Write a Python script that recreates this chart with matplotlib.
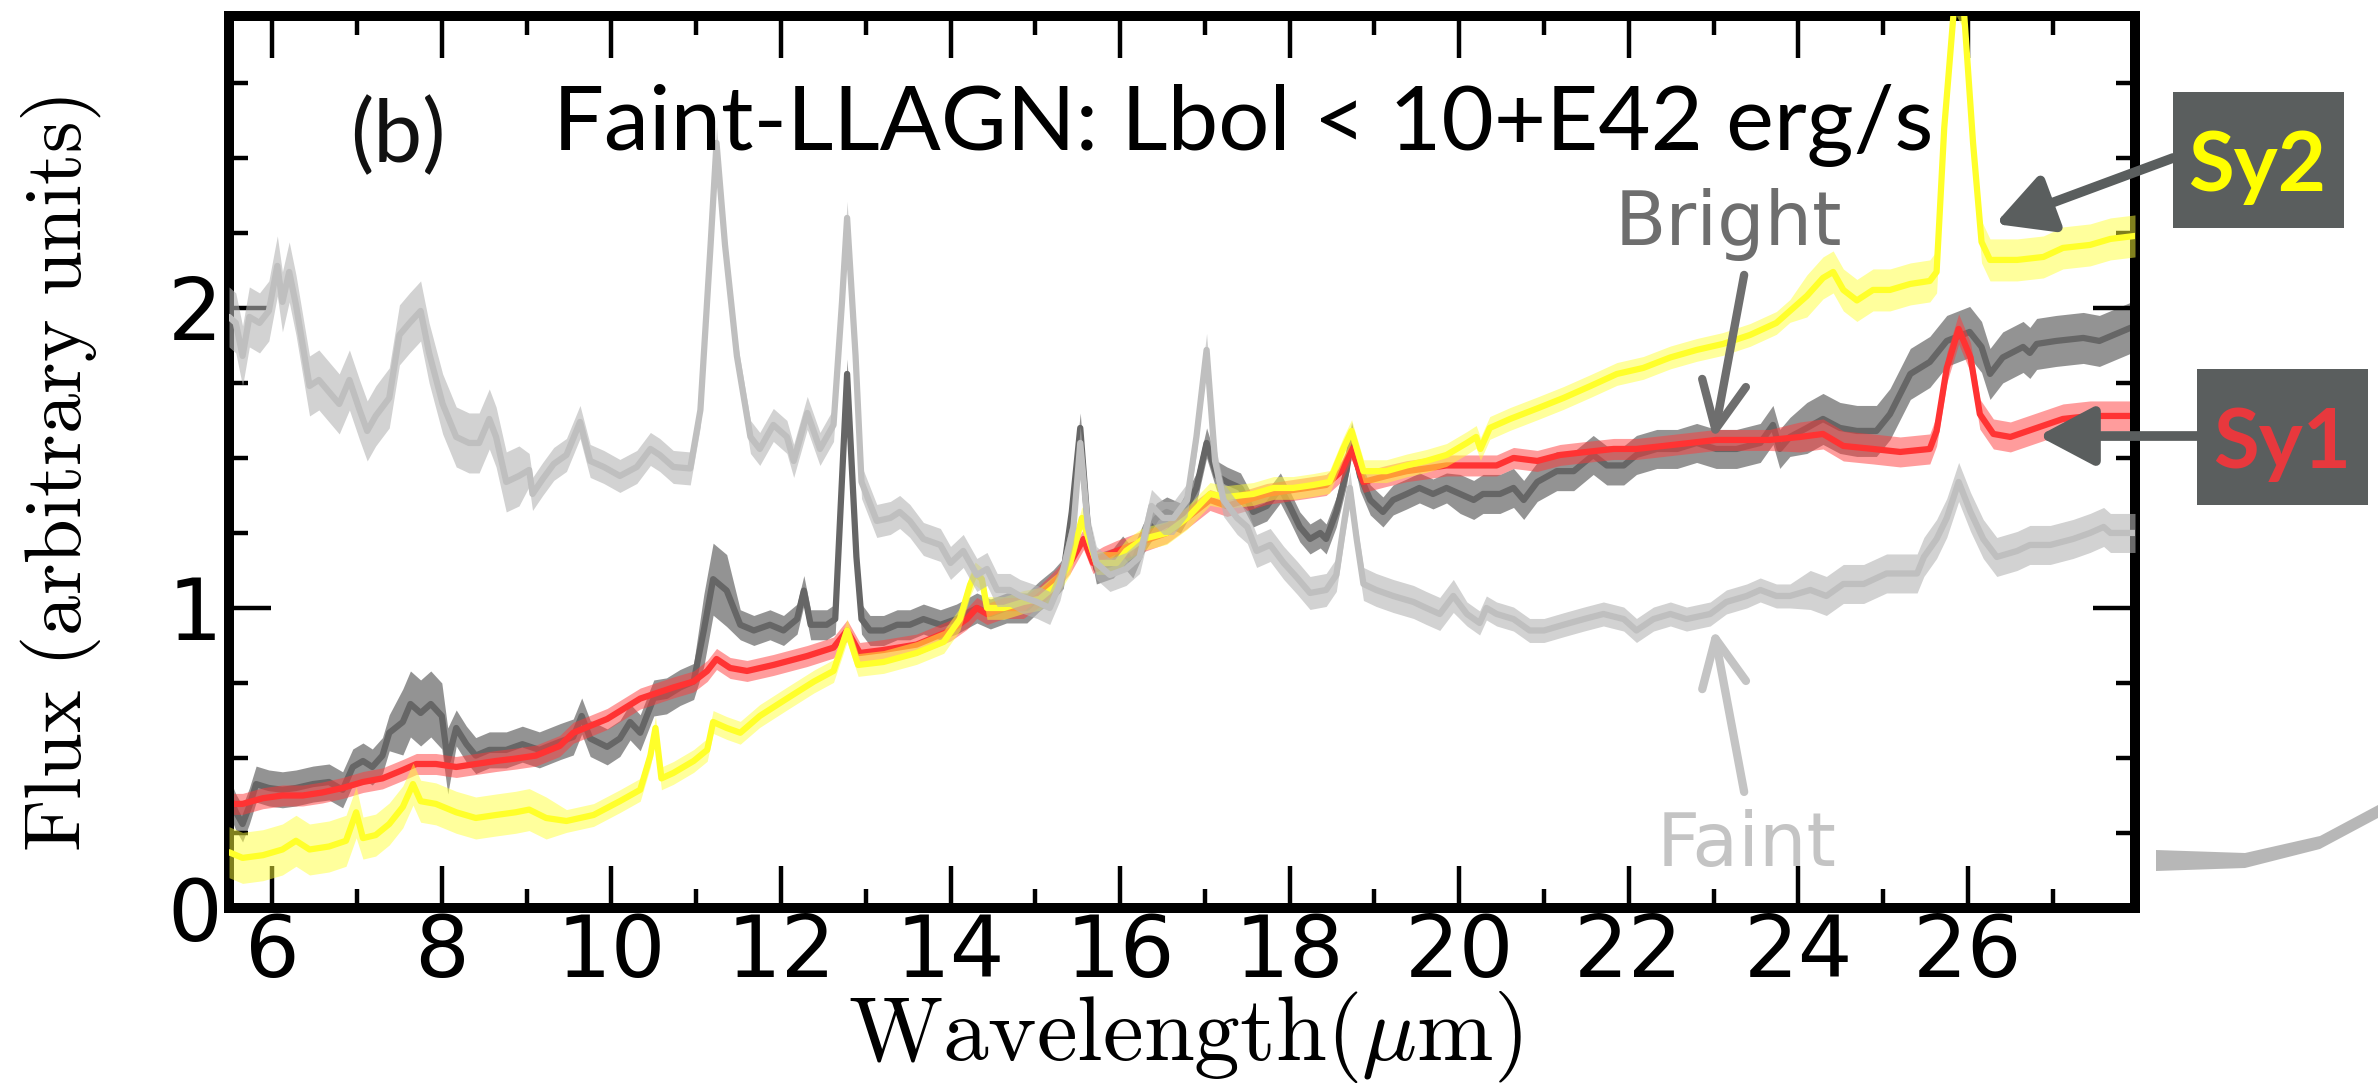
import numpy as np
import matplotlib
matplotlib.use("Agg")
import matplotlib.pyplot as plt
from matplotlib.patches import Rectangle, Polygon
from matplotlib.ticker import MultipleLocator

plt.rcParams['mathtext.fontset'] = 'cm'

# mean spectra: (wavelength in micron, normalised flux)
faint = np.array([
    (5.49, 1.97), (5.57, 1.95), (5.65, 1.84), (5.73, 1.97), (5.85, 1.95), (5.96, 1.99),
    (6.06, 2.14), (6.12, 2.02), (6.20, 2.12), (6.28, 2.01), (6.44, 1.74), (6.55, 1.76),
    (6.67, 1.72), (6.79, 1.68), (6.91, 1.76), (7.03, 1.66), (7.12, 1.59), (7.22, 1.64),
    (7.38, 1.70), (7.50, 1.91), (7.62, 1.95), (7.75, 1.99), (7.85, 1.85), (8.01, 1.68),
    (8.17, 1.57), (8.32, 1.55), (8.44, 1.55), (8.56, 1.63), (8.64, 1.57), (8.76, 1.42),
    (8.91, 1.44), (9.03, 1.46), (9.07, 1.38), (9.19, 1.43), (9.32, 1.48), (9.47, 1.51),
    (9.63, 1.62), (9.75, 1.49), (9.91, 1.47), (10.10, 1.44), (10.30, 1.47), (10.46, 1.53),
    (10.57, 1.51), (10.73, 1.47), (10.93, 1.465), (11.05, 1.66), (11.17, 2.21), (11.24, 2.55),
    (11.34, 2.21), (11.48, 1.84), (11.64, 1.57), (11.75, 1.53), (11.91, 1.61), (12.07, 1.57),
    (12.15, 1.49), (12.31, 1.65), (12.46, 1.53), (12.62, 1.61), (12.72, 2.02), (12.78, 2.30),
    (12.88, 1.84), (12.95, 1.42), (13.13, 1.29), (13.29, 1.30), (13.40, 1.32), (13.52, 1.29),
    (13.68, 1.23), (13.88, 1.21), (14.00, 1.15), (14.15, 1.19), (14.31, 1.11), (14.43, 1.13),
    (14.55, 1.06), (14.70, 1.06), (14.82, 1.04), (15.02, 1.02), (15.17, 1.00), (15.29, 1.08),
    (15.45, 1.27), (15.53, 1.55), (15.62, 1.27), (15.72, 1.15), (15.88, 1.11), (16.07, 1.13),
    (16.23, 1.17), (16.37, 1.34), (16.51, 1.30), (16.63, 1.30), (16.79, 1.36), (16.90, 1.57),
    (17.02, 1.86), (17.12, 1.49), (17.22, 1.36), (17.38, 1.30), (17.50, 1.27), (17.61, 1.19),
    (17.77, 1.21), (17.93, 1.15), (18.09, 1.10), (18.24, 1.05), (18.43, 1.06), (18.55, 1.11),
    (18.65, 1.30), (18.71, 1.40), (18.79, 1.23), (18.87, 1.08), (19.02, 1.06), (19.22, 1.04),
    (19.46, 1.02), (19.61, 1.00), (19.77, 0.98), (19.93, 1.04), (20.09, 0.98), (20.24, 0.95),
    (20.32, 1.00), (20.44, 0.98), (20.64, 0.963), (20.83, 0.925), (21.00, 0.925), (21.23, 0.944),
    (21.47, 0.963), (21.70, 0.98), (21.94, 0.963), (22.09, 0.925), (22.29, 0.963), (22.49, 0.98),
    (22.68, 0.963), (22.96, 0.98), (23.15, 1.02), (23.39, 1.04), (23.55, 1.06), (23.74, 1.04),
    (23.90, 1.04), (24.14, 1.06), (24.33, 1.04), (24.53, 1.08), (24.77, 1.08), (25.04, 1.115),
    (25.40, 1.115), (25.48, 1.17), (25.63, 1.23), (25.75, 1.30), (25.89, 1.42), (26.03, 1.32),
    (26.18, 1.23), (26.34, 1.17), (26.58, 1.19), (26.73, 1.21), (26.97, 1.21), (27.24, 1.23),
    (27.44, 1.25), (27.60, 1.27), (27.68, 1.25), (27.97, 1.25),
])

bright = np.array([
    (5.49, 0.375), (5.57, 0.32), (5.65, 0.28), (5.73, 0.34), (5.81, 0.413), (5.96, 0.40),
    (6.12, 0.394), (6.28, 0.40), (6.48, 0.413), (6.67, 0.42), (6.83, 0.394), (6.95, 0.47),
    (7.07, 0.49), (7.18, 0.47), (7.30, 0.508), (7.38, 0.584), (7.54, 0.62), (7.63, 0.68),
    (7.75, 0.65), (7.87, 0.68), (8.00, 0.64), (8.07, 0.49), (8.17, 0.60), (8.29, 0.546),
    (8.40, 0.508), (8.56, 0.527), (8.76, 0.527), (8.95, 0.546), (9.15, 0.527), (9.40, 0.555),
    (9.55, 0.57), (9.65, 0.64), (9.75, 0.565), (9.95, 0.537), (10.10, 0.565), (10.22, 0.62),
    (10.34, 0.584), (10.50, 0.70), (10.65, 0.707), (10.81, 0.735), (10.97, 0.755), (11.09, 0.925),
    (11.20, 1.096), (11.36, 1.058), (11.52, 0.944), (11.68, 0.925), (11.87, 0.944), (12.03, 0.925),
    (12.19, 0.963), (12.27, 1.058), (12.35, 0.944), (12.54, 0.944), (12.64, 0.963), (12.78, 1.78),
    (12.89, 1.17), (12.95, 0.963), (13.05, 0.925), (13.21, 0.925), (13.37, 0.944), (13.52, 0.944),
    (13.68, 0.963), (13.88, 0.944), (14.07, 0.963), (14.31, 1.00), (14.47, 0.98), (14.66, 1.00),
    (14.90, 1.00), (15.05, 1.04), (15.21, 1.077), (15.33, 1.115), (15.43, 1.32), (15.53, 1.60),
    (15.62, 1.27), (15.72, 1.13), (15.92, 1.15), (16.03, 1.19), (16.15, 1.15), (16.27, 1.23),
    (16.43, 1.30), (16.55, 1.32), (16.71, 1.30), (16.79, 1.34), (16.90, 1.40), (17.02, 1.55),
    (17.14, 1.44), (17.26, 1.42), (17.42, 1.40), (17.57, 1.32), (17.73, 1.34), (17.89, 1.40),
    (18.00, 1.34), (18.12, 1.27), (18.24, 1.23), (18.36, 1.25), (18.43, 1.23), (18.55, 1.32),
    (18.67, 1.456), (18.73, 1.57), (18.83, 1.44), (18.95, 1.36), (19.10, 1.32), (19.22, 1.36),
    (19.38, 1.38), (19.53, 1.40), (19.69, 1.38), (19.85, 1.40), (20.01, 1.38), (20.17, 1.36),
    (20.28, 1.38), (20.48, 1.38), (20.64, 1.40), (20.76, 1.36), (20.92, 1.42), (21.15, 1.456),
    (21.35, 1.456), (21.58, 1.51), (21.74, 1.475), (21.94, 1.475), (22.09, 1.51), (22.33, 1.53),
    (22.57, 1.53), (22.80, 1.55), (23.03, 1.53), (23.27, 1.53), (23.55, 1.55), (23.70, 1.61),
    (23.78, 1.53), (23.90, 1.57), (24.10, 1.60), (24.29, 1.63), (24.49, 1.60), (24.69, 1.59),
    (24.92, 1.59), (25.08, 1.646), (25.32, 1.78), (25.55, 1.82), (25.75, 1.89), (26.02, 1.92),
    (26.16, 1.87), (26.26, 1.78), (26.41, 1.835), (26.65, 1.87), (26.73, 1.85), (26.81, 1.88),
    (27.04, 1.89), (27.36, 1.90), (27.55, 1.89), (27.97, 1.94),
])

sy1 = np.array([
    (5.49, 0.347), (5.65, 0.347), (5.89, 0.366), (6.12, 0.375), (6.36, 0.375), (6.59, 0.385),
    (6.83, 0.40), (7.07, 0.42), (7.30, 0.432), (7.54, 0.46), (7.70, 0.48), (7.93, 0.48),
    (8.17, 0.47), (8.40, 0.48), (8.64, 0.49), (8.87, 0.498), (9.11, 0.508), (9.39, 0.54),
    (9.55, 0.584), (9.95, 0.63), (10.34, 0.698), (10.73, 0.735), (10.97, 0.755), (11.13, 0.79),
    (11.24, 0.83), (11.40, 0.80), (11.60, 0.79), (11.91, 0.81), (12.31, 0.84), (12.62, 0.868),
    (12.78, 0.925), (12.93, 0.85), (13.21, 0.86), (13.60, 0.878), (14.00, 0.925), (14.19, 0.963),
    (14.31, 1.00), (14.43, 0.98), (14.63, 1.00), (14.86, 1.00), (15.05, 1.04), (15.25, 1.096),
    (15.41, 1.15), (15.57, 1.23), (15.68, 1.15), (15.80, 1.17), (15.96, 1.19), (16.15, 1.21),
    (16.35, 1.23), (16.55, 1.25), (16.79, 1.30), (17.06, 1.36), (17.26, 1.34), (17.50, 1.36),
    (17.73, 1.38), (17.96, 1.39), (18.20, 1.40), (18.43, 1.41), (18.61, 1.456), (18.73, 1.53),
    (18.87, 1.42), (19.14, 1.44), (19.38, 1.456), (19.61, 1.465), (19.85, 1.475), (20.09, 1.475),
    (20.44, 1.475), (20.64, 1.50), (20.92, 1.49), (21.19, 1.51), (21.50, 1.52), (21.82, 1.53),
    (22.09, 1.53), (22.41, 1.54), (22.72, 1.55), (23.03, 1.56), (23.35, 1.56), (23.66, 1.56),
    (24.02, 1.57), (24.29, 1.58), (24.53, 1.54), (24.88, 1.53), (25.20, 1.52), (25.55, 1.53),
    (25.63, 1.59), (25.75, 1.80), (25.89, 1.93), (26.03, 1.835), (26.14, 1.646), (26.30, 1.58),
    (26.50, 1.57), (26.81, 1.60), (27.12, 1.63), (27.44, 1.64), (27.97, 1.64),
])

sy2 = np.array([
    (5.49, 0.186), (5.65, 0.167), (5.89, 0.176), (6.12, 0.195), (6.28, 0.224), (6.44, 0.195),
    (6.67, 0.205), (6.87, 0.224), (6.99, 0.319), (7.07, 0.233), (7.22, 0.243), (7.38, 0.28),
    (7.54, 0.337), (7.66, 0.413), (7.75, 0.356), (7.93, 0.347), (8.17, 0.319), (8.40, 0.30),
    (8.64, 0.31), (8.87, 0.319), (9.03, 0.328), (9.23, 0.30), (9.47, 0.29), (9.79, 0.31),
    (10.10, 0.356), (10.34, 0.394), (10.46, 0.508), (10.52, 0.60), (10.59, 0.432), (10.73, 0.45),
    (10.97, 0.49), (11.13, 0.527), (11.20, 0.62), (11.36, 0.60), (11.52, 0.584), (11.75, 0.64),
    (12.07, 0.698), (12.39, 0.755), (12.62, 0.79), (12.78, 0.925), (12.91, 0.81), (13.21, 0.82),
    (13.60, 0.85), (13.92, 0.887), (14.11, 0.963), (14.23, 1.077), (14.29, 1.115), (14.37, 1.096),
    (14.43, 1.00), (14.63, 1.00), (14.86, 1.02), (15.05, 1.03), (15.25, 1.077), (15.41, 1.15),
    (15.55, 1.30), (15.72, 1.15), (15.96, 1.15), (16.07, 1.19), (16.27, 1.23), (16.55, 1.25),
    (16.79, 1.30), (17.06, 1.38), (17.26, 1.37), (17.57, 1.38), (17.81, 1.40), (18.04, 1.40),
    (18.28, 1.41), (18.47, 1.42), (18.63, 1.53), (18.73, 1.59), (18.87, 1.456), (19.14, 1.456),
    (19.38, 1.475), (19.61, 1.49), (19.85, 1.51), (20.09, 1.55), (20.20, 1.57), (20.25, 1.53),
    (20.36, 1.60), (20.60, 1.63), (20.92, 1.665), (21.23, 1.70), (21.55, 1.74), (21.86, 1.78),
    (22.17, 1.80), (22.49, 1.835), (22.80, 1.86), (23.11, 1.88), (23.43, 1.91), (23.74, 1.95),
    (23.90, 1.99), (24.10, 2.04), (24.29, 2.10), (24.41, 2.12), (24.53, 2.06), (24.69, 2.025),
    (24.88, 2.06), (25.08, 2.06), (25.32, 2.08), (25.55, 2.09), (25.63, 2.12), (25.72, 2.60),
    (25.85, 3.05), (25.95, 3.00), (26.06, 2.55), (26.16, 2.22), (26.26, 2.16), (26.58, 2.16),
    (26.89, 2.17), (27.12, 2.20), (27.44, 2.21), (27.68, 2.23), (27.97, 2.24),
])

# half-width of the shaded band, constant between wavelength edges
faint_err_edges, faint_err = [9.0, 20.0, 24.0], [0.10, 0.055, 0.04, 0.065]
bright_err_edges, bright_err = [7.4, 8.1, 11.0, 11.5, 20.0, 24.0], [0.06, 0.11, 0.06, 0.12, 0.05, 0.065, 0.085]
sy1_err_edges, sy1_err = [24.0], [0.035, 0.05]
sy2_err_edges, sy2_err = [7.0, 9.4, 24.0], [0.085, 0.07, 0.038, 0.07]

x_ticks = [6, 8, 10, 12, 14, 16, 18, 20, 22, 24, 26]
y_ticks = [0, 1, 2]

W, H = 2378, 1088


def px(x, y):
    """pixel position (from top-left) -> figure fraction"""
    return x / W, 1 - y / H


fig = plt.figure(figsize=(W / 100, H / 100), dpi=100)
fig.patch.set_facecolor('white')
ax = fig.add_axes([229 / W, 1 - 908 / H, (2135 - 229) / W, (908 - 16) / H])


def draw_band(data, edges, levels, line_color, band_color, band_alpha, z):
    wl, fl = data[:, 0], data[:, 1]
    err = np.asarray(levels)[np.searchsorted(edges, wl)]
    ax.fill_between(wl, fl - err, fl + err, color=band_color, alpha=band_alpha,
                    lw=0, zorder=z)
    ax.plot(wl, fl, color=line_color, lw=4.5, zorder=z + 0.1,
            solid_joinstyle='round', solid_capstyle='round')


draw_band(bright, bright_err_edges, bright_err, '#666666', '#6a6a6a', 0.72, 1)
draw_band(sy1, sy1_err_edges, sy1_err, '#ff3333', '#ff3a3a', 0.5, 2)
draw_band(sy2, sy2_err_edges, sy2_err, '#ffff2a', '#ffff3a', 0.5, 3)
draw_band(faint, faint_err_edges, faint_err, '#bfbfbf', '#b4b4b4', 0.6, 4)

ax.set_xlim(5.49, 27.97)
ax.set_ylim(0, 2.973)
ax.set_xticks(x_ticks)
ax.set_yticks(y_ticks)
ax.xaxis.set_minor_locator(MultipleLocator(1))
ax.yaxis.set_minor_locator(MultipleLocator(0.25))
ax.tick_params(which='both', direction='in', top=True, right=True, width=3.2,
               labelsize=62, colors='black')
ax.tick_params(which='major', length=30)
ax.tick_params(which='minor', length=14)
ax.tick_params(axis='x', pad=3)
ax.tick_params(axis='y', pad=5)
for sp in ax.spines.values():
    sp.set_linewidth(7.2)

# axis labels
fig.text(*px(1185, 1060), r'$\mathrm{Wavelength}(\mu\mathrm{m})$', fontsize=66,
         ha='center', va='baseline')
fig.text(*px(61, 474), r'$\mathrm{Flux\ (arbitrary\ units)}$', fontsize=58,
         rotation=90, ha='center', va='center')

# panel title
fig.text(*px(553, 150), 'Faint-LLAGN: Lbol < 10+E42 erg/s', family='Lato',
         fontsize=65, ha='left', va='baseline', color='black')
fig.text(*px(350, 162), '(b)', family='Lato', fontsize=63, ha='left',
         va='baseline', color='#111111')

# Bright / Faint pointers
arrow_open = '->,head_length=34,head_width=16'
ax.text(23.18, 2.21, 'Bright', fontsize=54, color='#6e6e6e', ha='center',
        va='baseline', zorder=6)
ax.annotate('', xy=(23.0, 1.563), xytext=(23.36, 2.11),
            arrowprops=dict(arrowstyle=arrow_open, mutation_scale=1,
                            color='#6e6e6e', lw=6, shrinkA=0, shrinkB=0,
                            capstyle='round', joinstyle='round'), zorder=6)
ax.text(23.39, 0.14, 'Faint', fontsize=54, color='#c4c4c4', ha='center',
        va='baseline', zorder=6)
ax.annotate('', xy=(23.0, 0.93), xytext=(23.36, 0.387),
            arrowprops=dict(arrowstyle=arrow_open, mutation_scale=1,
                            color='#c4c4c4', lw=6, shrinkA=0, shrinkB=0,
                            capstyle='round', joinstyle='round'), zorder=6)

# Sy2 / Sy1 tags outside the frame
box_color = '#5a5e5e'
for (x0, y0, x1, y1), label, tcol, tx, tbase, tip, tail in [
        ((2173, 92, 2344, 228), 'Sy2', '#ffff00', 2257, 191, (26.32, 2.28), (2173, 158)),
        ((2197, 369, 2368, 505), 'Sy1', '#e8383d', 2282, 468, (26.83, 1.573), (2197, 436))]:
    fig.add_artist(Rectangle(px(x0, y1), (x1 - x0) / W, (y1 - y0) / H,
                             transform=fig.transFigure, color=box_color, lw=0))
    fig.text(*px(tx, tbase), label, family='Lato', weight='bold', fontsize=60,
             color=tcol, ha='center', va='baseline')
    ax.annotate('', xy=tip, xycoords='data', xytext=px(*tail),
                textcoords='figure fraction',
                arrowprops=dict(arrowstyle='-|>,head_length=34,head_width=18',
                                mutation_scale=1, color=box_color, lw=7,
                                shrinkA=0, shrinkB=0), zorder=6)

# faint curved stroke at the lower right edge
stroke = [(2156, 850), (2245, 853), (2320, 836), (2378, 805),
          (2378, 818), (2320, 849), (2245, 868), (2156, 871)]
fig.add_artist(Polygon([px(*p) for p in stroke], closed=True,
                       transform=fig.transFigure, color='#b0b0b0', lw=0,
                       alpha=0.9))

fig.savefig('out.png', dpi=100, facecolor='white')
